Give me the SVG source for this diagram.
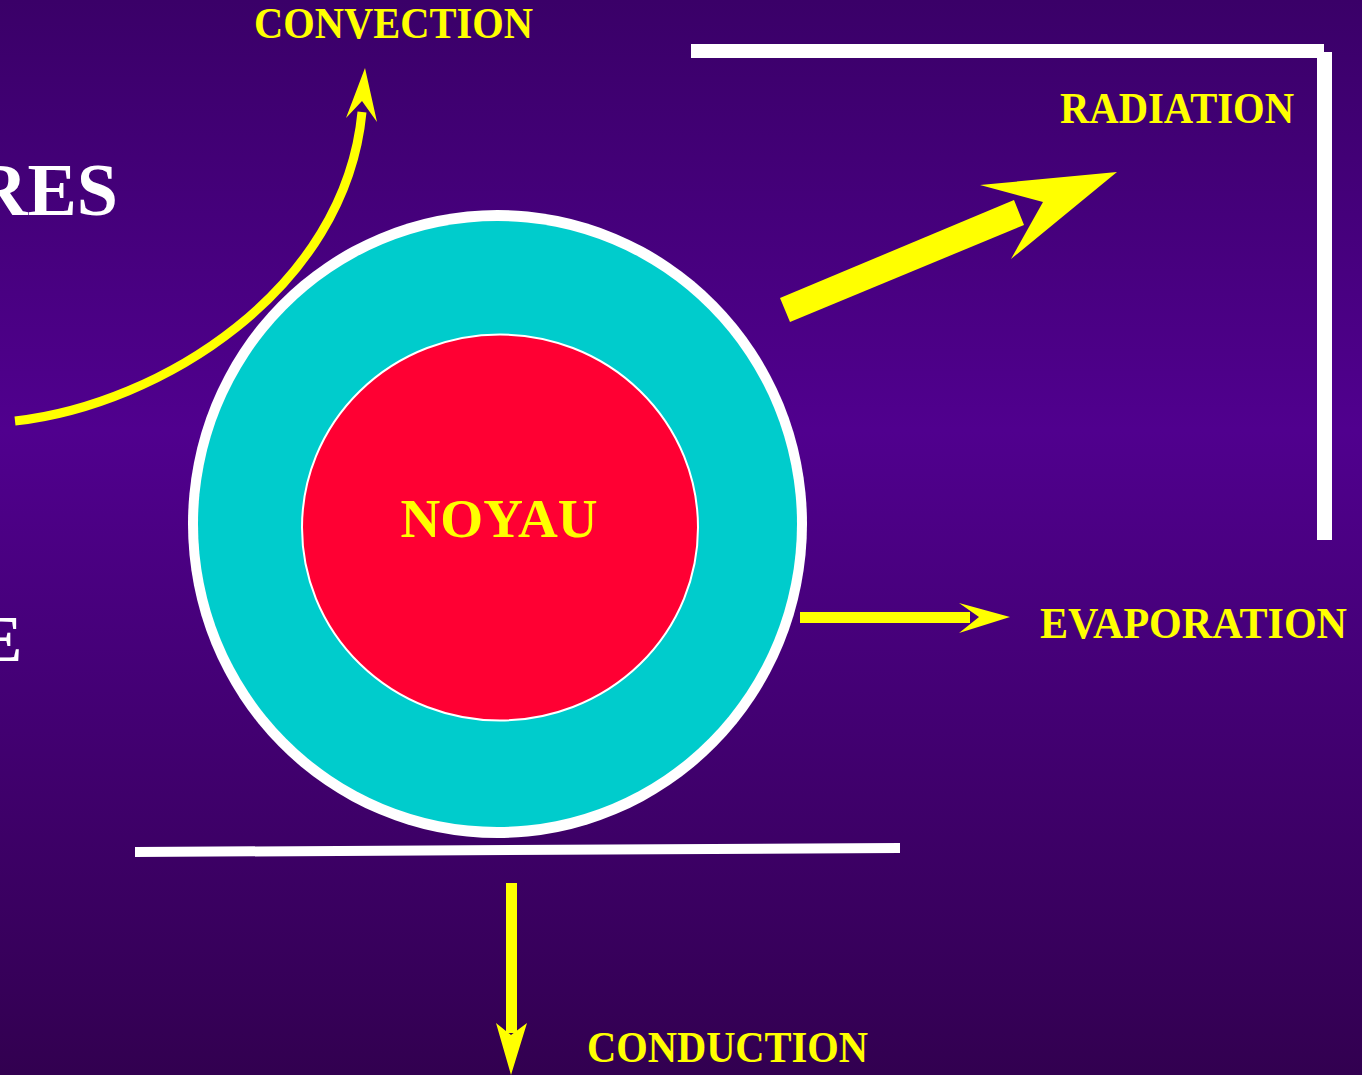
<svg xmlns="http://www.w3.org/2000/svg" width="1362" height="1075" viewBox="0 0 1362 1075">
  <defs>
    <linearGradient id="bg" x1="0" y1="0" x2="0" y2="1">
      <stop offset="0" stop-color="#3a0068"/>
      <stop offset="0.4" stop-color="#50008e"/>
      <stop offset="1" stop-color="#320050"/>
    </linearGradient>
  </defs>
  <style>
    .lbl { font-family: "Liberation Serif", "Times New Roman", serif; font-weight: bold; fill: #ffff00; }
    .wt { font-family: "Liberation Serif", "Times New Roman", serif; font-weight: bold; fill: #ffffff; }
    .ar { fill: #ffff00; }
    .wl { fill: #ffffff; }
  </style>
  <rect x="0" y="0" width="1362" height="1075" fill="url(#bg)"/>

  <g id="title-fragments">
    <text class="wt" x="118" y="215" font-size="74" text-anchor="end">RES</text>
    <text class="wt" x="22" y="661" font-size="65" text-anchor="end">E</text>
  </g>

  <g id="walls">
    <rect class="wl" x="691" y="44" width="633" height="14"/>
    <rect class="wl" x="1317" y="52" width="15" height="488"/>
    <polygon class="wl" points="135,847 900,843 900,853 135,857"/>
  </g>

  <g id="body">
    <ellipse cx="497.5" cy="524" rx="309.5" ry="314" fill="#ffffff"/>
    <ellipse cx="497.5" cy="524" rx="299.5" ry="303" fill="#00cccc"/>
    <ellipse cx="500" cy="527.5" rx="198" ry="193" fill="#ff0033" stroke="#ffffff" stroke-width="2"/>
    <text class="lbl" x="499" y="537" font-size="54" text-anchor="middle" textLength="197" lengthAdjust="spacingAndGlyphs">NOYAU</text>
  </g>

  <g id="connectors">
    <path d="M15,421 C160,405 345,290 362,112" fill="none" stroke="#ffff00" stroke-width="9"/>
    <polygon class="ar" points="365,68 377,122 362,101 346,118"/>
    <polygon class="ar" points="780,298 1014,200 1024,225 790,322"/>
    <polygon class="ar" points="980,185 1117,172 1011,259 1043,202"/>
    <rect class="ar" x="800" y="612" width="170" height="11"/>
    <polygon class="ar" points="959,603 1010,617 959,633 979,617"/>
    <rect class="ar" x="506" y="883" width="11" height="150"/>
    <polygon class="ar" points="496,1023 511,1035 527,1023 511,1075"/>
  </g>

  <g id="labels">
    <text class="lbl" x="254" y="38" font-size="44" textLength="279" lengthAdjust="spacingAndGlyphs">CONVECTION</text>
    <text class="lbl" x="1060" y="123" font-size="44" textLength="234" lengthAdjust="spacingAndGlyphs">RADIATION</text>
    <text class="lbl" x="1040" y="638" font-size="44" textLength="307" lengthAdjust="spacingAndGlyphs">EVAPORATION</text>
    <text class="lbl" x="587" y="1062" font-size="44" textLength="281" lengthAdjust="spacingAndGlyphs">CONDUCTION</text>
  </g>
</svg>
